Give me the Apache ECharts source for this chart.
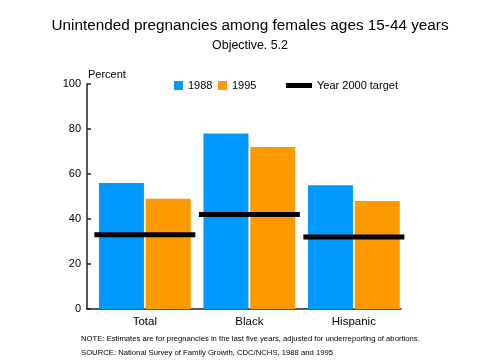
<!DOCTYPE html>
<html>
<head>
<meta charset="utf-8">
<script src="https://cdn.jsdelivr.net/npm/echarts@6/dist/echarts.min.js"></script>
<style>html,body{margin:0;padding:0;background:#fff}#c{width:500px;height:364px}</style>
</head>
<body>
<div id="c"></div>
<script>
const categories = ['Total', 'Black', 'Hispanic'];
const values1988 = [56, 78, 55];
const values1995 = [49, 72, 48];
const target2000 = [33, 42, 32];
const yTicks = [0, 20, 40, 60, 80, 100];

const FONT = 'Liberation Sans, Arial, Helvetica, sans-serif';
const chart = echarts.init(document.getElementById('c'), null, {renderer: 'canvas'});

const option = {
  backgroundColor: '#fff',
  animation: false,
  textStyle: {fontFamily: FONT, color: '#000'},
  title: [
    {text: 'Unintended pregnancies among females ages 15-44 years', left: 'center', top: 13,
     textStyle: {fontSize: 15.3, fontWeight: 'normal', color: '#000', fontFamily: FONT}},
    {text: 'Objective. 5.2', left: 'center', top: 35,
     textStyle: {fontSize: 12.4, fontWeight: 'normal', color: '#000', fontFamily: FONT}}
  ],
  legend: [
    {data: ['1988'], left: 174, top: 80, padding: 0, itemWidth: 9, itemHeight: 9, icon: 'rect',
     textStyle: {fontSize: 11, color: '#000', fontFamily: FONT}, selectedMode: false},
    {data: ['1995'], left: 218, top: 80, padding: 0, itemWidth: 9, itemHeight: 9, icon: 'rect',
     textStyle: {fontSize: 11, color: '#000', fontFamily: FONT}, selectedMode: false},
    {data: [{name: 'Year 2000 target', icon: 'rect', itemStyle: {color: '#000'}}], left: 286, top: 80, padding: 0,
     itemWidth: 26, itemHeight: 5,
     textStyle: {fontSize: 11, color: '#000', fontFamily: FONT}, selectedMode: false}
  ],
  grid: [
    {left: 92.6, right: 93.9, top: 84, bottom: 55},
    {left: 87, right: 99, top: 84, bottom: 55}
  ],
  xAxis: [
    {type: 'category', gridIndex: 0, data: categories,
     axisLine: {show: false}, axisTick: {show: false},
     axisLabel: {fontSize: 11.5, color: '#000', margin: 7, fontFamily: FONT}},
    {type: 'value', gridIndex: 1, min: 0, max: 1,
     axisLine: {show: true, lineStyle: {color: '#222', width: 1.5}},
     axisTick: {show: false}, axisLabel: {show: false}, splitLine: {show: false}}
  ],
  yAxis: [
    {type: 'value', gridIndex: 0, min: 0, max: 100, interval: 20, show: false},
    {type: 'value', gridIndex: 1, min: 0, max: 100, interval: 20,
     axisLine: {show: true, lineStyle: {color: '#222', width: 1.5}},
     axisTick: {show: true, inside: true, length: 4, lineStyle: {color: '#222', width: 1.5}},
     axisLabel: {fontSize: 11, color: '#000', margin: 6, fontFamily: FONT,
       formatter: v => yTicks.includes(v) ? String(v) : ''},
     splitLine: {show: false}}
  ],
  graphic: [
    {type: 'text', left: 88, top: 69, style: {text: 'Percent', fontSize: 11, fill: '#000', fontFamily: FONT}},
    {type: 'text', left: 81, top: 335, style: {text: 'NOTE: Estimates are for pregnancies in the last five years, adjusted for underreporting of abortions.', fontSize: 7.7, fill: '#000', fontFamily: FONT}},
    {type: 'text', left: 81, top: 349, style: {text: 'SOURCE: National Survey of Family Growth, CDC/NCHS, 1988 and 1995', fontSize: 7.7, fill: '#000', fontFamily: FONT}}
  ],
  series: [
    {name: '1988', type: 'bar', xAxisIndex: 0, yAxisIndex: 0, data: values1988,
     barWidth: 45, barGap: '4%', itemStyle: {color: '#0099FF'}},
    {name: '1995', type: 'bar', xAxisIndex: 0, yAxisIndex: 0, data: values1995,
     barWidth: 45, barGap: '4%', itemStyle: {color: '#FF9900'}},
    {name: 'Year 2000 target', type: 'custom', xAxisIndex: 0, yAxisIndex: 0, z: 10,
     itemStyle: {color: '#000'},
     data: target2000.map((v, i) => [i, v]),
     encode: {x: 0, y: 1},
     renderItem: function (params, api) {
       const p = api.coord([api.value(0), api.value(1)]);
       const hw = api.size([1, 0])[0] * 0.483;
       return {type: 'line', shape: {x1: p[0] - hw, y1: p[1], x2: p[0] + hw, y2: p[1]},
               style: {stroke: '#000', lineWidth: 5}};
     }}
  ]
};
chart.setOption(option);
</script>
</body>
</html>
